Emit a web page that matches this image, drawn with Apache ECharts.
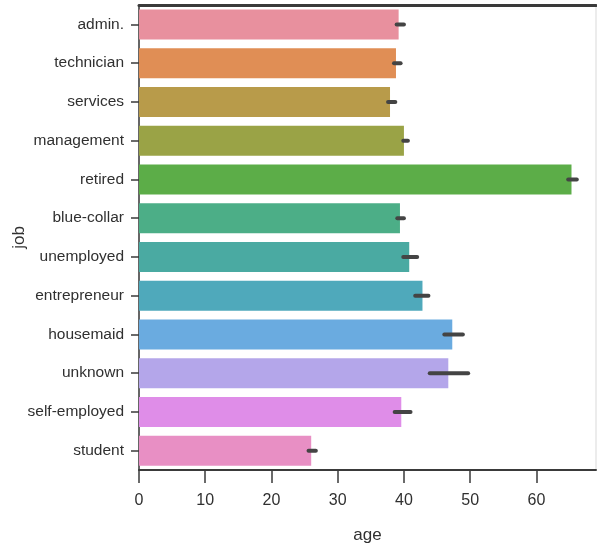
<!DOCTYPE html>
<html>
<head>
<meta charset="utf-8">
<script src="https://cdn.jsdelivr.net/npm/echarts@6/dist/echarts.min.js"></script>
<style>
  html, body { margin: 0; padding: 0; background: #fff; }
  #chart { width: 597px; height: 546px; }
</style>
</head>
<body>
<div id="chart"></div>
<script>
// Mean age per job with 95% confidence interval
const jobs = ['admin.', 'technician', 'services', 'management', 'retired', 'blue-collar',
  'unemployed', 'entrepreneur', 'housemaid', 'unknown', 'self-employed', 'student'];
const meanAge = [39.2, 38.8, 37.9, 40.0, 65.3, 39.4, 40.8, 42.8, 47.3, 46.7, 39.6, 26.0];
const ciLow  = [38.9, 38.5, 37.6, 39.9, 64.8, 39.0, 39.9, 41.7, 46.1, 43.9, 38.6, 25.6];
const ciHigh = [40.0, 39.5, 38.7, 40.6, 66.1, 40.0, 42.0, 43.7, 48.9, 49.7, 41.0, 26.7];
const barColors = ['#e8909e', '#e08e55', '#b89b4a', '#9aa346', '#5cad48', '#4cae87',
  '#4aaaa2', '#4fa9bb', '#6aabe0', '#b4a6ea', '#df8de8', '#e88fc4'];
const xTicks = [0, 10, 20, 30, 40, 50, 60];

const labelFont = '"Liberation Sans", Arial, sans-serif';
const ink = '#303030';

const chart = echarts.init(document.getElementById('chart'), null, { renderer: 'canvas' });

chart.setOption({
  animation: false,
  backgroundColor: '#ffffff',
  grid: {
    left: 139, right: 1, top: 5, bottom: 76,
    outerBoundsMode: 'none', containLabel: false,
    show: true, borderColor: '#d9d9d9', borderWidth: 1
  },
  xAxis: [{
    type: 'value',
    min: 0, max: 69, interval: 10,
    name: 'age', nameLocation: 'middle', nameGap: 57, nameMoveOverlap: false,
    nameTextStyle: { fontFamily: labelFont, fontSize: 17, color: ink },
    axisLine: { show: true, lineStyle: { color: '#3a3a3a', width: 2 } },
    axisTick: { show: true, length: 13, customValues: xTicks, lineStyle: { color: '#3a3a3a', width: 1.5 } },
    axisLabel: { customValues: xTicks, fontFamily: labelFont, fontSize: 16, color: ink, margin: 23 },
    splitLine: { show: false }
  }, {
    type: 'value', position: 'top',
    min: 0, max: 69,
    axisLine: { show: true, onZero: false, lineStyle: { color: '#3a3a3a', width: 3 } },
    axisTick: { show: false }, axisLabel: { show: false }, splitLine: { show: false }
  }],
  yAxis: {
    type: 'category',
    data: jobs,
    inverse: true,
    name: 'job', nameLocation: 'middle', nameGap: 111, nameMoveOverlap: false,
    nameTextStyle: { fontFamily: labelFont, fontSize: 17, color: ink },
    axisLine: { show: true, lineStyle: { color: '#3a3a3a', width: 1.5 } },
    axisTick: { show: true, alignWithLabel: true, length: 8, lineStyle: { color: '#3a3a3a', width: 1.5 } },
    axisLabel: { fontFamily: labelFont, fontSize: 15.5, color: ink, margin: 15 }
  },
  series: [{
    type: 'bar',
    xAxisIndex: 0,
    barWidth: 30,
    data: meanAge.map((v, i) => ({ value: v, itemStyle: { color: barColors[i] } }))
  }, {
    type: 'custom',
    xAxisIndex: 0,
    z: 5,
    data: jobs.map((j, i) => [ciLow[i], ciHigh[i], i]),
    renderItem: function (params, api) {
      const p1 = api.coord([api.value(0), api.value(2)]);
      const p2 = api.coord([api.value(1), api.value(2)]);
      return {
        type: 'line',
        shape: { x1: p1[0], y1: p1[1], x2: p2[0], y2: p2[1] },
        style: { stroke: '#444444', lineWidth: 4, lineCap: 'round' }
      };
    },
    encode: { x: [0, 1], y: 2 }
  }]
});
</script>
</body>
</html>
